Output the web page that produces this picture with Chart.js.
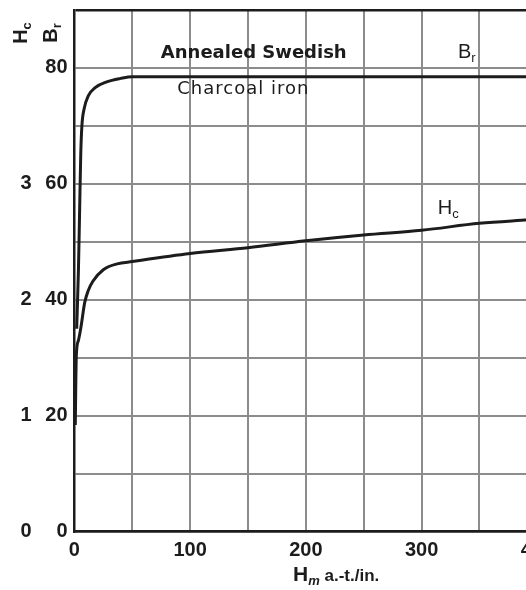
<!DOCTYPE html>
<html>
<head>
<meta charset="utf-8">
<script src="https://cdn.jsdelivr.net/npm/chart.js@4.4.1/dist/chart.umd.min.js"></script>
<style>
  html, body { margin: 0; padding: 0; background: #fff; overflow: hidden; }
  #chart { display: block; }
</style>
</head>
<body>
<canvas id="chart" width="561" height="590"></canvas>
<script>
// --- values ---
const hmTicks = [0, 100, 200, 300, 400];
const brTickLabels = [0, 20, 40, 60, 80];
const hcTickLabels = [0, 1, 2, 3];

// Br curve (annealed Swedish charcoal iron), a.-t./in. vs kilolines
const brHm = [2, 3.5, 4.5, 5.5, 6.5, 8.5, 12, 18, 28, 40, 50, 100, 200, 300, 392];
const brVals = [35, 45, 55, 65, 70, 73, 75.2, 76.6, 77.6, 78.2, 78.5, 78.5, 78.5, 78.5, 78.5];

// Hc curve
const hcHm = [0.8, 1.2, 1.7, 3.5, 5.6, 9, 12, 16, 25, 37, 50, 100, 150, 200, 250, 300, 350, 392];
const hcVals = [0.92, 1.25, 1.52, 1.65, 1.76, 1.98, 2.08, 2.16, 2.26, 2.31, 2.33, 2.40, 2.45, 2.51, 2.56, 2.60, 2.66, 2.69];

const INK = '#1c1c1c';
const GRID = '#8c8c8c';
const FONT = '"Liberation Sans", Arial, sans-serif';

// draws a run of text pieces (for the subscripts), centred on cx,cy
function drawRich(ctx, parts, cx, cy, rotate) {
  ctx.save();
  ctx.translate(cx, cy);
  if (rotate) ctx.rotate(-Math.PI / 2);
  ctx.textAlign = 'left';
  ctx.textBaseline = 'alphabetic';
  ctx.fillStyle = INK;
  let total = 0;
  parts.forEach(p => {
    ctx.font = `${p.weight || 'bold'} ${p.size}px ${p.family || FONT}`;
    p.w = ctx.measureText(p.t).width;
    total += p.w;
  });
  let x = -total / 2;
  const base = parts[0].size * 0.36;
  parts.forEach(p => {
    ctx.font = `${p.weight || 'bold'} ${p.size}px ${p.family || FONT}`;
    ctx.fillText(p.t, x, base + (p.dy || 0));
    x += p.w;
  });
  ctx.restore();
}

const labelsPlugin = {
  id: 'labels',
  afterDatasetsDraw(chart) {
    const ctx = chart.ctx;
    const xs = chart.scales.x, ys = chart.scales.y;
    const area = chart.chartArea;

    // plain annotations
    ctx.save();
    ctx.fillStyle = INK;
    ctx.textAlign = 'center';
    ctx.textBaseline = 'middle';
    ctx.font = 'bold 18px "DejaVu Sans"';
    ctx.fillText('Annealed Swedish', xs.getPixelForValue(155), ys.getPixelForValue(82.5));
    ctx.font = '18px "DejaVu Sans"';
    ctx.letterSpacing = '1px';
    ctx.fillText('Charcoal iron', xs.getPixelForValue(146), ys.getPixelForValue(76.3));
    ctx.restore();

    // curve names
    drawRich(ctx, [{t: 'B', size: 20, weight: 'normal'}, {t: 'r', size: 13, dy: 4, weight: 'normal'}],
      xs.getPixelForValue(339), ys.getPixelForValue(82.9));
    drawRich(ctx, [{t: 'H', size: 20, weight: 'normal'}, {t: 'c', size: 13, dy: 4, weight: 'normal'}],
      xs.getPixelForValue(323), ys.getPixelForValue(56.1));

    // axis titles
    drawRich(ctx, [{t: 'H', size: 20}, {t: 'c', size: 13, dy: 4}], area.left - 55, area.top + 23, true);
    drawRich(ctx, [{t: 'B', size: 20}, {t: 'r', size: 13, dy: 4}], area.left - 25, area.top + 23, true);
    drawRich(ctx, [
      {t: 'H', size: 21},
      {t: 'm', size: 13, dy: 4, weight: 'italic bold'},
      {t: ' a.-t./in.', size: 17}
    ], (area.left + 526) / 2 + 36, area.bottom + 42);
  }
};

// no extra room above the top tick of the left axes
const noTopPad = s => { s.paddingTop = 0; };

new Chart(document.getElementById('chart'), {
  type: 'line',
  data: {
    datasets: [{
      label: 'Br',
      data: brHm.map((h, i) => ({x: h, y: brVals[i]})),
      yAxisID: 'y',
      borderColor: INK,
      borderWidth: 3,
      pointRadius: 0,
      cubicInterpolationMode: 'monotone'
    }, {
      label: 'Hc',
      data: hcHm.map((h, i) => ({x: h, y: hcVals[i]})),
      yAxisID: 'yh',
      borderColor: INK,
      borderWidth: 3,
      pointRadius: 0,
      cubicInterpolationMode: 'monotone'
    }]
  },
  options: {
    responsive: false,
    animation: false,
    layout: { padding: { top: 10, left: 13.5, right: 0, bottom: 20.3 } },
    plugins: { legend: { display: false }, tooltip: { enabled: false } },
    scales: {
      x: {
        type: 'linear',
        min: 0,
        max: 400,
        ticks: {
          stepSize: 50,
          autoSkip: false,
          maxRotation: 0,
          padding: 7,
          color: INK,
          font: { family: FONT, size: 20, weight: 'bold' },
          callback: v => hmTicks.includes(v) ? String(v) : ''
        },
        grid: { color: GRID, lineWidth: 2, drawTicks: false },
        border: { color: INK, width: 2.5 }
      },
      y: {
        position: 'left',
        weight: 0,
        min: 0,
        max: 90,
        afterFit: noTopPad,
        ticks: {
          stepSize: 10,
          padding: 6.75,
          color: INK,
          font: { family: FONT, size: 20, weight: 'bold' },
          callback: v => brTickLabels.includes(v) ? String(v) : ''
        },
        grid: {
          drawTicks: false,
          color: c => (c.tick && c.tick.value === 90) ? INK : GRID,
          lineWidth: c => (c.tick && c.tick.value === 90) ? 2.5 : 2
        },
        border: { color: INK, width: 2.5 }
      },
      yh: {
        position: 'left',
        weight: 1,
        min: 0,
        max: 4.5,
        afterFit: noTopPad,
        ticks: {
          stepSize: 1,
          padding: 7,
          color: INK,
          font: { family: FONT, size: 20, weight: 'bold' },
          callback: v => hcTickLabels.includes(v) ? String(v) : ''
        },
        grid: { display: false, drawTicks: false },
        border: { display: false }
      }
    }
  },
  plugins: [labelsPlugin]
});
</script>
</body>
</html>
